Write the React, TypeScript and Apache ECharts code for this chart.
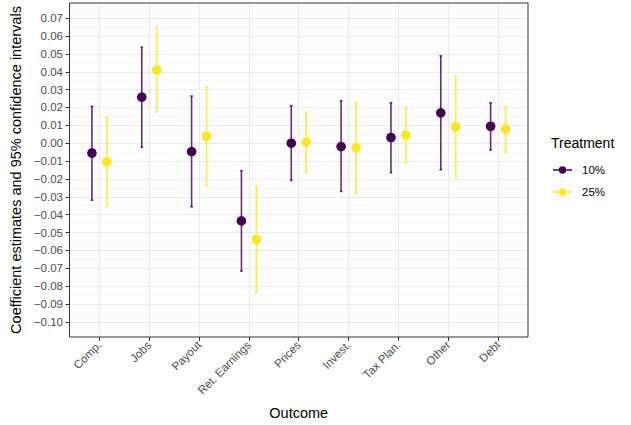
import React, { useEffect, useRef } from "react";
import * as echarts from "echarts";

// Outcome categories along the x axis
const categories = [
  "Comp.",
  "Jobs",
  "Payout",
  "Ret. Earnings",
  "Prices",
  "Invest.",
  "Tax Plan.",
  "Other",
  "Debt",
];

// Treatment groups
const treatments = ["10%", "25%"];
const treatmentColors = ["#440154", "#FDE725"];

// 10% treatment: point estimates and 95% CI bounds
const est10 = [-0.0055, 0.0258, -0.0047, -0.0435, 0.0, -0.0019, 0.0032, 0.017, 0.0095];
const lo10 = [-0.0319, -0.0022, -0.0356, -0.0716, -0.0208, -0.027, -0.0165, -0.0148, -0.0038];
const hi10 = [0.0206, 0.0537, 0.0264, -0.0154, 0.021, 0.0238, 0.0226, 0.0489, 0.0226];

// 25% treatment: point estimates and 95% CI bounds
const est25 = [-0.0105, 0.041, 0.0039, -0.0539, 0.0007, -0.0026, 0.0045, 0.0092, 0.0079];
const lo25 = [-0.0352, 0.0176, -0.0236, -0.0831, -0.0161, -0.0281, -0.0109, -0.0189, -0.0049];
const hi25 = [0.0146, 0.0646, 0.0315, -0.0244, 0.0174, 0.023, 0.02, 0.0376, 0.0204];

// Y axis breaks (major) and the minor grid between them
const yTicks = [-0.1, -0.09, -0.08, -0.07, -0.06, -0.05, -0.04, -0.03, -0.02, -0.01, 0, 0.01, 0.02, 0.03, 0.04, 0.05, 0.06, 0.07];
const yMinor = [-0.105, -0.095, -0.085, -0.075, -0.065, -0.055, -0.045, -0.035, -0.025, -0.015, -0.005, 0.005, 0.015, 0.025, 0.035, 0.045, 0.055, 0.065, 0.075];

const FONT = "'Liberation Sans', Arial, Helvetica, sans-serif";
const DODGE = 0.15;

function fmtTick(v: number): string {
  const s = Math.abs(v) < 1e-9 ? "0.00" : v.toFixed(2);
  return s.replace("-", "\u2212");
}

function buildSeries(
  name: string,
  color: string,
  offset: number,
  est: number[],
  lo: number[],
  hi: number[]
) {
  const data = categories.map((_, i) => [i + offset, lo[i], est[i], hi[i]]);
  return {
    type: "custom",
    name,
    z: 3,
    xAxisIndex: 0,
    yAxisIndex: 0,
    itemStyle: { color },
    encode: { x: 0, y: [1, 2, 3] },
    data,
    renderItem: (params: any, api: any) => {
      const x = api.value(0);
      const pLo = api.coord([x, api.value(1)]);
      const pEst = api.coord([x, api.value(2)]);
      const pHi = api.coord([x, api.value(3)]);
      const cap = 1.3;
      const barStyle = { stroke: color, lineWidth: 1.6, opacity: 0.82 };
      return {
        type: "group",
        children: [
          {
            type: "line",
            shape: { x1: pLo[0], y1: pLo[1], x2: pHi[0], y2: pHi[1] },
            style: barStyle,
          },
          {
            type: "line",
            shape: { x1: pLo[0] - cap, y1: pLo[1], x2: pLo[0] + cap, y2: pLo[1] },
            style: barStyle,
          },
          {
            type: "line",
            shape: { x1: pHi[0] - cap, y1: pHi[1], x2: pHi[0] + cap, y2: pHi[1] },
            style: barStyle,
          },
          {
            type: "circle",
            shape: { cx: pEst[0], cy: pEst[1], r: 4.8 },
            style: { fill: color },
          },
        ],
      };
    },
  };
}

// Legend key: horizontal line with a dot in the middle
const KEY_ICON =
  "path://M0,3.8H19V5.2H0Z M13.2,4.5A3.7,3.7 0 1 1 5.8,4.5A3.7,3.7 0 1 1 13.2,4.5Z";

export default function App() {
  const ref = useRef<HTMLDivElement>(null);

  useEffect(() => {
    if (!ref.current) return;
    const chart = echarts.init(ref.current, undefined, { renderer: "svg" });

    const s10 = buildSeries(treatments[0], treatmentColors[0], -DODGE, est10, lo10, hi10) as any;
    s10.markLine = {
      z: 1,
      silent: true,
      symbol: "none",
      label: { show: false },
      lineStyle: { color: "#000", type: [5, 4], width: 1.2 },
      data: [{ yAxis: 0 }],
    };
    const s25 = buildSeries(treatments[1], treatmentColors[1], DODGE, est25, lo25, hi25);

    const option: any = {
      animation: false,
      backgroundColor: "#fff",
      textStyle: { fontFamily: FONT },
      grid: {
        left: 68,
        right: 103,
        top: 3,
        bottom: 88,
        show: true,
        borderColor: "#333333",
        borderWidth: 1,
        backgroundColor: "transparent",
        z: 10,
      },
      graphic: [
        {
          type: "text",
          left: 551,
          top: 136,
          style: {
            text: "Treatment",
            font: `14px ${FONT}`,
            fill: "#000",
          },
        },
      ],
      legend: {
        orient: "vertical",
        left: 548,
        top: 158,
        padding: 5,
        itemWidth: 19,
        itemHeight: 9,
        itemGap: 8,
        data: treatments.map((t) => ({ name: t, icon: KEY_ICON })),
        textStyle: {
          fontFamily: FONT,
          fontSize: 11.5,
          color: "#000",
          lineHeight: 14,
          padding: [0, 0, 0, 5],
        },
        selectedMode: false,
      },
      xAxis: [
        {
          type: "value",
          min: -0.6,
          max: 8.6,
          name: "Outcome",
          nameLocation: "middle",
          nameGap: 68,
          nameTextStyle: { fontFamily: FONT, fontSize: 14.5, color: "#000" },
          axisLine: { show: false, onZero: false },
          axisTick: {
            show: true,
            length: 4,
            lineStyle: { color: "#333333", width: 1 },
            customValues: categories.map((_, i) => i),
          },
          axisLabel: {
            show: true,
            rotate: 45,
            margin: 6,
            fontFamily: FONT,
            fontSize: 11.5,
            color: "#4D4D4D",
            customValues: categories.map((_, i) => i),
            formatter: (v: number) => categories[Math.round(v)] ?? "",
          },
          splitLine: { show: true, lineStyle: { color: "#EBEBEB", width: 1.1 } },
        },
      ],
      yAxis: [
        {
          type: "value",
          min: -0.1085,
          max: 0.0785,
          name: "Coefficient estimates and 95% confidence intervals",
          nameLocation: "middle",
          nameGap: 41,
          nameTextStyle: { fontFamily: FONT, fontSize: 14.5, color: "#000" },
          axisLine: { show: false, onZero: false },
          axisTick: {
            show: true,
            length: 4,
            lineStyle: { color: "#333333", width: 1 },
            customValues: yTicks,
          },
          axisLabel: {
            show: true,
            margin: 6.5,
            fontFamily: FONT,
            fontSize: 11.5,
            color: "#4D4D4D",
            customValues: yTicks,
            formatter: (v: number) => fmtTick(v),
          },
          splitLine: { show: true, lineStyle: { color: "#EBEBEB", width: 1.1 } },
          z: 2,
        },
        {
          type: "value",
          min: -0.1085,
          max: 0.0785,
          position: "left",
          axisLine: { show: false, onZero: false },
          axisTick: { show: false, customValues: yMinor },
          axisLabel: { show: false, customValues: yMinor },
          splitLine: { show: true, lineStyle: { color: "#F2F2F2", width: 0.6 } },
          z: 1,
        },
      ],
      series: [s10, s25],
    };

    chart.setOption(option);
    return () => chart.dispose();
  }, []);

  return (
    <div
      ref={ref}
      style={{ position: "absolute", left: 0, top: 0, width: 631, height: 425 }}
    />
  );
}
